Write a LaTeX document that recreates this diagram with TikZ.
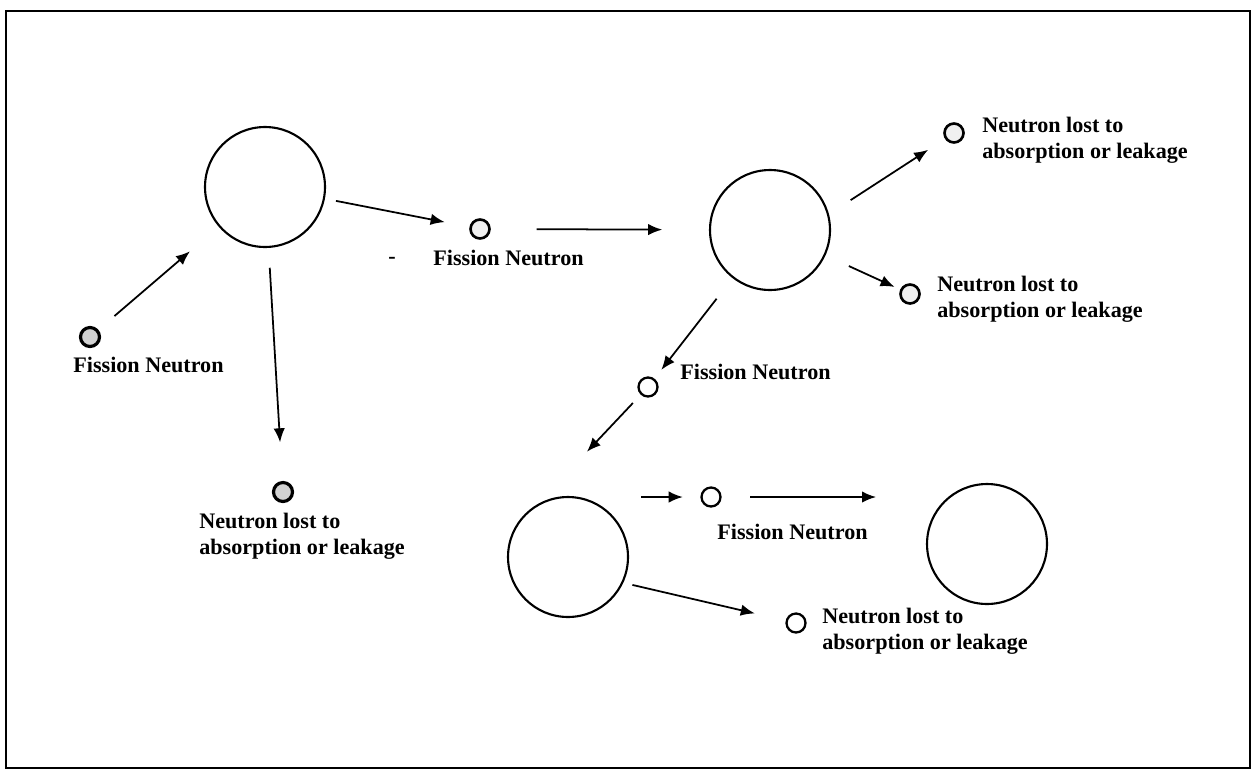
\documentclass[tikz,border=0pt]{standalone}
\usepackage{fontspec}
\setmainfont{Liberation Serif}
\usetikzlibrary{arrows.meta}
\tikzset{
    % Nucleus - large open circle
    nucleus/.style={circle, draw, line width=1.2pt, minimum size=2.4cm, inner sep=0pt},
    % Neutron - small open circle
    neutron/.style={circle, draw, line width=1.3pt, fill=white, minimum size=0.38cm, inner sep=0pt},
    % Shaded neutron - grey filled, heavier ring
    shaded neutron/.style={neutron, line width=1.8pt, fill=gray!35},
    % Light neutron - faint grey
    light neutron/.style={neutron, line width=1.5pt, fill=gray!12},
    % Bold caption text
    note/.style={font=\bfseries\fontsize{12.6}{14.7}\selectfont, anchor=west, inner sep=0pt, align=left},
    % Neutron path - solid arrow
    path arrow/.style={line width=1pt, -{Latex[length=8pt,width=6.5pt]}},
    % Outer frame
    frame/.style={line width=1.2pt}
}

\begin{document}
\begin{tikzpicture}[x=0.02cm, y=-0.02cm]
    \useasboundingbox (0,0) rectangle (1253,771);
    \draw[frame] (6,11) rectangle (1250,768);

    % --- Nuclei ---
    \node[nucleus] (C1) at (265,187) {};
    \node[nucleus] (C2) at (770,230) {};
    \node[nucleus] (C3) at (568,557) {};
    \node[nucleus] (C4) at (987,544) {};

    % --- Neutrons ---
    \node[shaded neutron] (N1) at (90,337) {};
    \node[light neutron] (N2) at (480,229) {};
    \node[shaded neutron] (N3) at (283,492) {};
    \node[light neutron] (N4) at (954,133) {};
    \node[light neutron] (N5) at (910,294) {};
    \node[neutron] (N6) at (648,387) {};
    \node[neutron] (N7) at (711,497) {};
    \node[neutron] (N8) at (796,623) {};

    % --- Captions ---
    \node[note] (L1) at (73,365) {Fission Neutron};
    \node[note] (dash) at (388,260) {-};
    \node[note] (L2) at (433,258) {Fission Neutron};
    \node[note] (L3) at (199,536) {Neutron lost to\\absorption or leakage};
    \node[note] (L4) at (982,140) {Neutron lost to\\absorption or leakage};
    \node[note] (L5) at (937,299) {Neutron lost to\\absorption or leakage};
    \node[note] (L6) at (680,372) {Fission Neutron};
    \node[note] (L7) at (717,532) {Fission Neutron};
    \node[note] (L8) at (822,631) {Neutron lost to\\absorption or leakage};

    % --- Neutron paths ---
    \draw[path arrow, shorten <=12pt, shorten >=21.5pt] (N1) -- (C1);
    \draw[path arrow, shorten <=6.4pt, shorten >=14.3pt] (C1) -- (N2);
    \draw[path arrow, shorten <=26pt, shorten >=26.6pt] (N2) -- (C2);
    \draw[path arrow, shorten <=11.3pt, shorten >=22pt] (C1) -- (N3);
    \draw[path arrow, shorten <=14.7pt, shorten >=11.4pt] (C2.15) -- (N4);
    \draw[path arrow, shorten <=14.6pt, shorten >=3.5pt] (C2) -- (N5);
    \draw[path arrow, shorten <=14.8pt, shorten >=6.3pt] (C2) -- (N6);
    \draw[path arrow, shorten <=6.5pt, shorten >=41pt] (N6) -- (C3.120);
    \draw[path arrow, shorten <=6.8pt, shorten >=10pt] (C3.east |- N7) -- (N7);
    \draw[path arrow, shorten <=16.2pt, shorten >=28.4pt] (N7) -- (N7 -| C4.west);
    \draw[path arrow, shorten <=5.3pt, shorten >=18pt] (C3.-25) -- (N8);
\end{tikzpicture}
\end{document}
